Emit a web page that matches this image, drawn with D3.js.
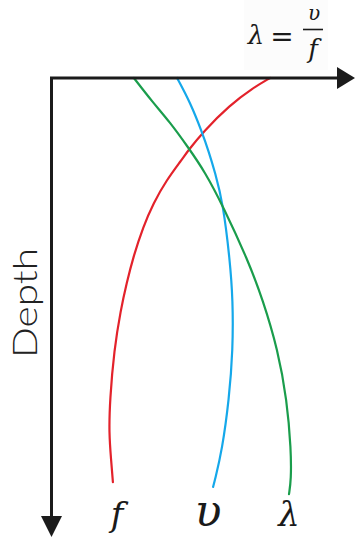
<!DOCTYPE html>
<html>
<head>
<meta charset="utf-8">
<script src="https://cdn.jsdelivr.net/npm/d3@7"></script>
<style>
  html, body { margin: 0; padding: 0; background: #fff; }
  svg { display: block; }
</style>
</head>
<body>
<svg id="chart" width="355" height="539"></svg>
<script>
// Depth profiles (depth units from the surface) for frequency, speed and wavelength
const fDepth = [0, 3.3, 9, 18, 24.3, 27.3, 34, 41.7, 49.6, 59.6, 68.3, 77.3, 90.7, 107.3, 118.3, 127.3, 134.7];
const fValue = [72.7, 67, 59.3, 50.3, 45.3, 43.2, 38.2, 33.8, 30.4, 27.1, 24.9, 22.9, 20.7, 19.3, 19, 19.7, 20.3];

const vDepth = [0, 8, 18, 24.7, 31.3, 41.7, 60.7, 74, 90.7, 107.3, 124, 134, 136.3];
const vValue = [41.7, 46, 50, 52.3, 54.3, 57, 59.3, 60.3, 60.3, 59, 56.7, 54.3, 53.7];

const lDepth = [0, 8, 14.7, 23, 31.3, 42.7, 60.7, 74, 90.7, 107.3, 124, 134, 138.7];
const lValue = [27.3, 33.5, 39.3, 45.3, 51, 57, 65.3, 70.3, 75.3, 78.3, 79.7, 79.7, 79];

const seriesNames = ["f", "υ", "λ"];
const seriesColors = ["#e3222b", "#15a8ea", "#1a9d4c"];

const svg = d3.select("#chart");

const x = d3.scaleLinear().domain([0, 100]).range([52, 352]);
const y = d3.scaleLinear().domain([0, 150]).range([78, 528]);

const series = [
  { name: seriesNames[0], color: seriesColors[0], pts: fDepth.map((d, i) => [fValue[i], d]) },
  { name: seriesNames[1], color: seriesColors[1], pts: vDepth.map((d, i) => [vValue[i], d]) },
  { name: seriesNames[2], color: seriesColors[2], pts: lDepth.map((d, i) => [lValue[i], d]) }
];

const line = d3.line()
  .x(d => x(d[0]))
  .y(d => y(d[1]))
  .curve(d3.curveBasis);

// Curves
svg.append("g").selectAll("path")
  .data(series)
  .join("path")
  .attr("d", d => line(d.pts))
  .attr("fill", "none")
  .attr("stroke", d => d.color)
  .attr("stroke-width", 2.2)
  .attr("stroke-linecap", "round");

// Axes: horizontal value axis along the surface, vertical depth axis
const axisColor = "#1b1b1b";
const ox = x(0) - 0.5, oy = y(0);
svg.append("path")
  .attr("d", `M${ox},${y(147)} V${oy} H${x(96)}`)
  .attr("fill", "none")
  .attr("stroke", axisColor)
  .attr("stroke-width", 3)
  .attr("stroke-linejoin", "miter");

// Arrowheads
svg.append("path")
  .attr("d", `M${x(95)},${oy - 11} L${x(101)},${oy} L${x(95)},${oy + 11} Z`)
  .attr("fill", axisColor);
svg.append("path")
  .attr("d", `M${ox - 10.5},${y(146)} L${ox},${y(153)} L${ox + 10.5},${y(146)} Z`)
  .attr("fill", axisColor);

// Depth axis title
svg.append("text")
  .attr("transform", `translate(36.5,${y(75)}) rotate(-90)`)
  .attr("text-anchor", "middle")
  .attr("font-family", "Lato, 'Open Sans', sans-serif")
  .attr("font-weight", 300)
  .attr("font-size", 34)
  .attr("textLength", 110)
  .attr("lengthAdjust", "spacingAndGlyphs")
  .attr("fill", "#222")
  .text("Depth");

// Curve labels at the bottom
const labelFont = "'DejaVu Serif', 'Liberation Serif', serif";
const labelPos = [
  { x: 117, size: 34 },
  { x: 208, size: 44 },
  { x: 289, size: 34 }
];
svg.append("g").selectAll("text")
  .data(series)
  .join("text")
  .attr("x", (d, i) => labelPos[i].x)
  .attr("y", 526)
  .attr("text-anchor", "middle")
  .attr("font-family", labelFont)
  .attr("font-style", "italic")
  .attr("font-size", (d, i) => labelPos[i].size)
  .attr("fill", "#1a1a1a")
  .text(d => d.name);

// Relation  λ = υ / f
const rel = svg.append("g").attr("font-family", labelFont).attr("fill", "#1a1a1a");
rel.append("rect").attr("x", 244).attr("y", 0).attr("width", 84).attr("height", 70).attr("fill", "#fcfcfc");
rel.append("text").attr("x", 256).attr("y", 44).attr("text-anchor", "middle")
  .attr("font-style", "italic").attr("font-size", 26).text("λ");
rel.append("text").attr("x", 282).attr("y", 46).attr("text-anchor", "middle")
  .attr("font-size", 28).text("=");
rel.append("text").attr("x", 314).attr("y", 20).attr("text-anchor", "middle")
  .attr("font-style", "italic").attr("font-size", 20).text("υ");
rel.append("line").attr("x1", 303).attr("x2", 323).attr("y1", 29.5).attr("y2", 29.5)
  .attr("stroke", "#1a1a1a").attr("stroke-width", 1.6);
rel.append("text").attr("x", 313).attr("y", 58).attr("text-anchor", "middle")
  .attr("font-style", "italic").attr("font-size", 26).text("f");
</script>
</body>
</html>
